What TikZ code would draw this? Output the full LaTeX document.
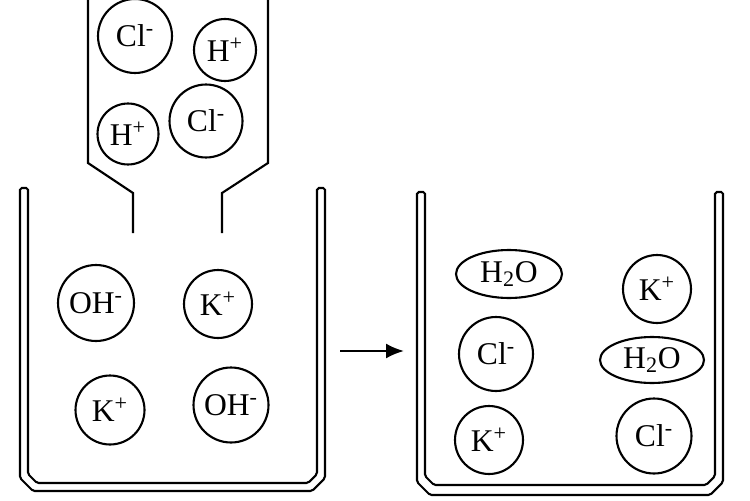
\documentclass[tikz,border=0pt]{standalone}
\usepackage{fontspec}
\setmainfont{Liberation Serif}
\usetikzlibrary{arrows.meta,shapes.geometric}

\begin{document}
\begin{tikzpicture}[x=0.02cm,y=-0.02cm,line width=1.2pt,
  ion/.style={circle,draw,inner sep=0pt,minimum size=#1,font=\fontsize{18}{20}\selectfont},
  water/.style={ellipse,draw,inner sep=0pt,minimum width=2.12cm,minimum height=0.96cm,font=\fontsize{18}{20}\selectfont}]
\useasboundingbox (0,0) rectangle (750,500);

% beakers
\draw[rounded corners=1pt] (20,188) -- (20,478) -- (33,491) -- (312,491) -- (325,478) -- (325,188)
  -- (317,188) -- (317,474) -- (308,483) -- (37,483) -- (28,474) -- (28,188) -- cycle;
\draw[rounded corners=1pt] (417,192) -- (417,482) -- (430,495) -- (710,495) -- (723,482) -- (723,192)
  -- (715,192) -- (715,476) -- (706,485) -- (434,485) -- (425,476) -- (425,192) -- cycle;

% dropper
\draw (88,0) -- (88,163) -- (133,193) -- (133,233);
\draw (268,0) -- (268,163) -- (222,193) -- (222,233);

% acid
\node[ion=1.48cm] (cl1) at (135,36) {Cl\textsuperscript{-}};
\node[ion=1.24cm] (h1) at (225,50) {H\textsuperscript{+}};
\node[ion=1.22cm] (h2) at (128,134) {H\textsuperscript{+}};
\node[ion=1.46cm] (cl2) at (206,121) {Cl\textsuperscript{-}};

% base
\node[ion=1.52cm] (oh1) at (96,303) {OH\textsuperscript{-}};
\node[ion=1.36cm] (k1) at (218,304) {K\textsuperscript{+}};
\node[ion=1.38cm] (k2) at (110,410) {K\textsuperscript{+}};
\node[ion=1.5cm] (oh2) at (231,405) {OH\textsuperscript{-}};

% products
\node[water] (w1) at (509,274) {H\textsubscript{2}O};
\node[ion=1.36cm] (k3) at (657,289) {K\textsuperscript{+}};
\node[ion=1.48cm] (cl3) at (496,354) {Cl\textsuperscript{-}};
\node[water,minimum width=2.08cm,minimum height=0.92cm] (w2) at (652,360) {H\textsubscript{2}O};
\node[ion=1.36cm] (k4) at (489,440) {K\textsuperscript{+}};
\node[ion=1.5cm] (cl4) at (654,436) {Cl\textsuperscript{-}};

\coordinate (from) at (340,351);
\coordinate (to) at (404,351);
\draw[-{Latex[length=0.36cm,width=0.3cm]}] (from) -- (to);
\end{tikzpicture}
\end{document}
